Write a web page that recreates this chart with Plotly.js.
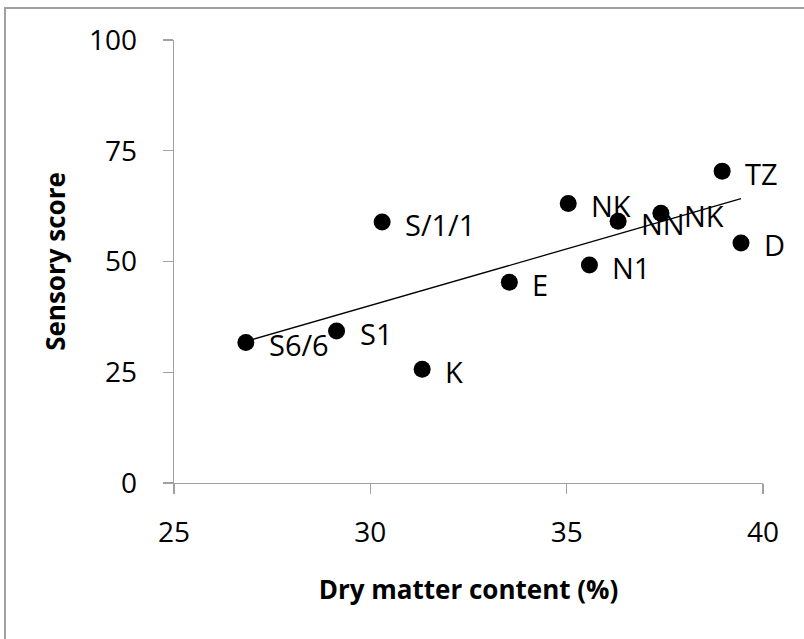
<!DOCTYPE html>
<html>
<head>
<meta charset="utf-8">
<script src="https://cdn.plot.ly/plotly-3.0.1.min.js"></script>
<style>
html,body{margin:0;padding:0;background:#fff;}
#wrap{position:relative;width:804px;height:639px;}
#chart{width:804px;height:639px;}
#frame{position:absolute;left:4px;top:7px;width:820px;height:660px;border-left:2px solid #a0a0a0;border-top:2px solid #a0a0a0;pointer-events:none;}
</style>
</head>
<body>
<div id="wrap"><div id="chart"></div><div id="frame"></div></div>
<script>
// Data
const varieties = ["S6/6","S1","S/1/1","K","E","NK","N1","NN","NK","TZ","D"];
const dryMatter = [26.83,29.14,30.30,31.32,33.54,35.04,35.58,36.31,37.40,38.96,39.44];
const sensoryScore = [31.7,34.3,58.9,25.7,45.3,63.1,49.2,59.1,60.9,70.4,54.2];
const xTicks = [25,30,35,40];
const yTicks = [0,25,50,75,100];

// Linear trendline (least squares) computed from the data
const n = dryMatter.length;
const mx = dryMatter.reduce((a,b)=>a+b,0)/n;
const my = sensoryScore.reduce((a,b)=>a+b,0)/n;
let sxy=0, sxx=0;
for(let i=0;i<n;i++){sxy+=(dryMatter[i]-mx)*(sensoryScore[i]-my);sxx+=(dryMatter[i]-mx)**2;}
const slope = sxy/sxx, icpt = my - slope*mx;
const xmin = Math.min(...dryMatter), xmax = Math.max(...dryMatter);
const trendX = [xmin, xmax];
const trendY = trendX.map(v=>icpt+slope*v);

const FONT = "Open Sans, Noto Sans, sans-serif";

const traces = [
  {x: trendX, y: trendY, mode:"lines", line:{color:"#000", width:1.3}, hoverinfo:"skip", showlegend:false},
  {x: dryMatter, y: sensoryScore, mode:"markers", marker:{color:"#000", size:17}, showlegend:false}
];

const annotations = varieties.map((t,i)=>({
  x: dryMatter[i], y: sensoryScore[i], xref:"x", yref:"y", text:t, showarrow:false,
  xanchor:"left", yanchor:"middle", xshift:21, yshift:-2,
  font:{family:FONT, size:29, color:"#000"}
}));

const axisCommon = {
  showgrid:false, zeroline:false, showline:true, linecolor:"#a0a0a0", linewidth:1.3,
  ticks:"outside", ticklen:10, tickcolor:"#a0a0a0", tickwidth:1.3,
  tickfont:{family:FONT, size:28, color:"#000"}
};

const layout = {
  width:804, height:639,
  margin:{l:174, r:41, t:40, b:156},
  paper_bgcolor:"#fff", plot_bgcolor:"#fff",
  xaxis: Object.assign({}, axisCommon, {
    range:[25,40], tickmode:"array", tickvals:xTicks, ticktext:xTicks.map(String),
    ticklabelstandoff:14,
    title:{text:"<b>Dry matter content (%)</b>", font:{family:FONT, size:26, color:"#000"}, standoff:32}
  }),
  yaxis: Object.assign({}, axisCommon, {
    range:[0,100], tickmode:"array", tickvals:yTicks, ticktext:yTicks.map(String),
    ticklabelstandoff:20,
    title:{text:"<b>Sensory score</b>", font:{family:FONT, size:26, color:"#000"}, standoff:16}
  }),
  annotations: annotations
};

Plotly.newPlot("chart", traces, layout, {displayModeBar:false, staticPlot:true});
</script>
</body>
</html>
